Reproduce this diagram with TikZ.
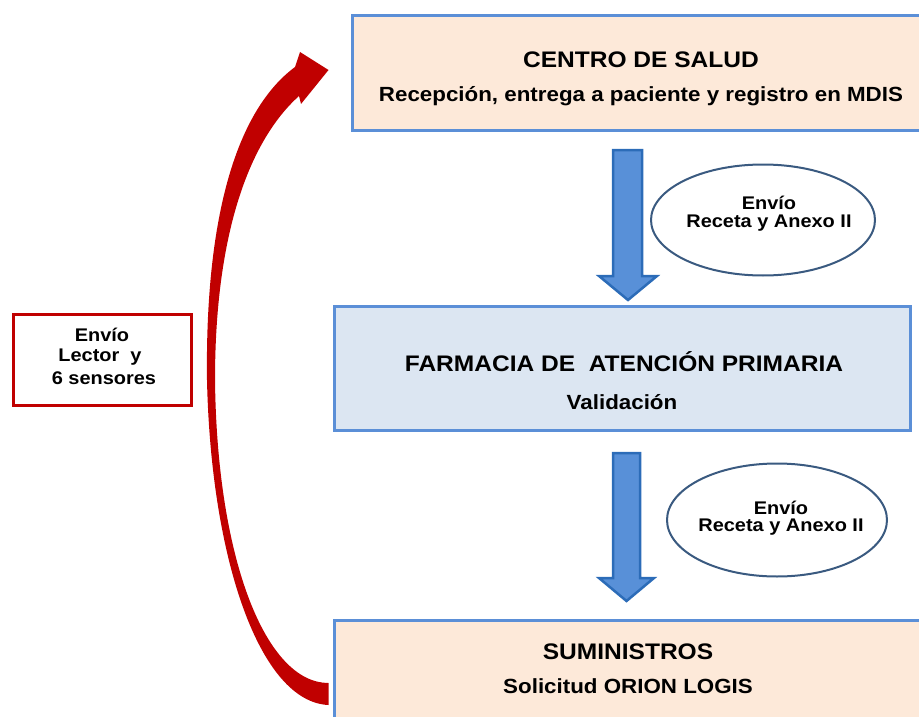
\documentclass[tikz,border=0pt]{standalone}
\usepackage{fontspec}
\setmainfont{Liberation Sans}
\newfontfamily\wfont[FakeStretch=1.09]{Liberation Sans}
\usetikzlibrary{shapes.geometric,calc}
\definecolor{peach}{HTML}{FDE9D9}
\definecolor{paleblue}{HTML}{DCE6F2}
\definecolor{boxedge}{HTML}{5B8FD7}
\definecolor{arrfill}{HTML}{5890D8}
\definecolor{arredge}{HTML}{2C6CB8}
\definecolor{elledge}{HTML}{3A5A80}
\definecolor{dred}{HTML}{C00000}
\tikzset{
  stagebox/.style={draw=boxedge, line width=3pt, rectangle, inner sep=0pt},
  redbox/.style={draw=dred, line width=3pt, fill=white, rectangle, inner sep=0pt},
  oval/.style={draw=elledge, line width=2pt, fill=white, ellipse, inner sep=0pt},
  titletext/.style={font=\wfont\bfseries\fontsize{22.5}{24}\selectfont, inner sep=0pt},
  subtext/.style={font=\wfont\bfseries\fontsize{20.5}{22}\selectfont, inner sep=0pt},
  smalltext/.style={font=\wfont\bfseries\fontsize{18.3}{20}\selectfont, inner sep=0pt, align=center},
  fatarrow/.style={fill=arrfill, draw=arredge, line width=2.5pt, line join=miter},
}
\begin{document}
\begin{tikzpicture}[x=1pt,y=-1pt]
\useasboundingbox (0,0) rectangle (919,717);
% boxes
\node[stagebox, fill=peach, minimum width=578pt, minimum height=114pt] (centro) at (641,73) {};
\node[stagebox, fill=paleblue, minimum width=576pt, minimum height=124pt] (farmacia) at (622,368) {};
\node[stagebox, fill=peach, minimum width=596pt, minimum height=120pt] (sumin) at (632,680) {};
\node[redbox, minimum width=178pt, minimum height=91pt] (envio) at (102,359.5) {};
% box texts
\node[titletext] (centroT) at (641,60) {CENTRO DE SALUD};
\node[subtext] (centroS) at (641,96) {Recepción, entrega a paciente y registro en MDIS};
\node[titletext] (farmT) at (624,362) {FARMACIA DE\ \ ATENCIÓN PRIMARIA};
\node[subtext] (farmS) at (622,402) {Validación};
\node[titletext] (sumT) at (628,652) {SUMINISTROS};
\node[subtext] (sumS) at (628,686) {Solicitud ORION LOGIS};
\node[smalltext] (envT1) at (102,335) {Envío};
\node[smalltext] (envT2) at (100,357) {Lector\ \ y};
\node[smalltext] (envT3) at (104,378) {6 sensores};
% ellipses
\node[oval, minimum width=224pt, minimum height=111pt] (ell1) at (763,220) {};
\node[smalltext] (ell1a) at (769,203) {Envío};
\node[smalltext] (ell1b) at (769,223) {Receta y Anexo II};
\node[oval, minimum width=220pt, minimum height=113pt] (ell2) at (777,520) {};
\node[smalltext] (ell2a) at (781,508) {Envío};
\node[smalltext] (ell2b) at (781,527) {Receta y Anexo II};
% blue arrows
\coordinate (a1s) at (627.5,150);
\coordinate (a1e) at (628,300);
\coordinate (a2s) at (626.5,453);
\coordinate (a2e) at (626.5,601);
\draw[fatarrow] ($(a1s)+(-14.5,0)$) -- ($(a1s)+(14.5,0)$) -- ($(a1e)+(14,-24)$) -- ($(a1e)+(29,-24)$)
  -- (a1e) -- ($(a1e)+(-29,-24)$) -- ($(a1e)+(-15,-24)$) -- cycle;
\draw[fatarrow] ($(a2s)+(-13.5,0)$) -- ($(a2s)+(13.5,0)$) -- ($(a2e)+(13.5,-23)$) -- ($(a2e)+(27.5,-23)$)
  -- (a2e) -- ($(a2e)+(-27.5,-23)$) -- ($(a2e)+(-13.5,-23)$) -- cycle;
% red curved arrow from suministros to centro
\coordinate (rtailB) at ($(sumin.west)+(-4,25)$);
\coordinate (rtailT) at ($(sumin.west)+(-4,3)$);
\coordinate (rtip) at ($(centro.west)+(-22,-3)$);
\fill[dred] (rtailB) .. controls (260,702) and (211,560) .. (207,380)
  .. controls (205,215) and (237,110) .. (295,67)
  -- (300,52) -- (rtip) -- (301,104) -- (299,96)
  .. controls (250,140) and (215,232) .. (215,380)
  .. controls (217,560) and (266,683) .. (rtailT) -- cycle;
\end{tikzpicture}
\end{document}
